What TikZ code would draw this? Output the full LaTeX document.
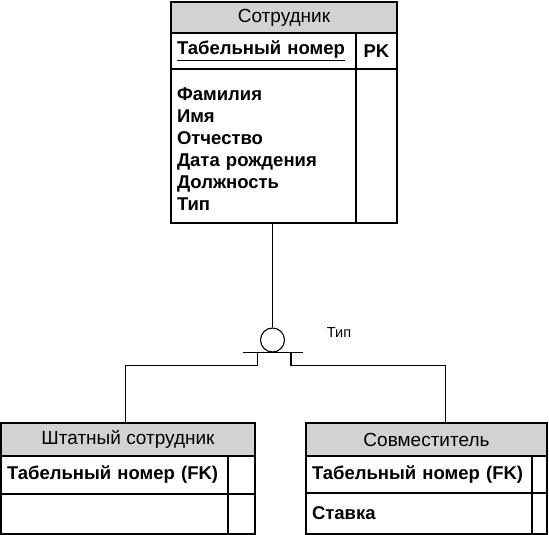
\documentclass[tikz,border=0pt]{standalone}
\usepackage{fontspec}
\setmainfont{Liberation Sans}
\usetikzlibrary{positioning,calc}

\begin{document}
\begin{tikzpicture}[
  x=1pt, y=-1pt,
  font=\fontsize{19}{22}\selectfont,
  hdr/.style={draw, fill=gray!35, minimum height=#1, inner sep=0pt},
  cell/.style={draw, text width=#1, align=left, inner xsep=6pt, inner ysep=0pt, font=\fontsize{18.5}{22}\selectfont\bfseries},
  side/.style={draw, inner sep=0pt},
  ln/.style={line width=1.1pt}]
\useasboundingbox (0,0) rectangle (549,535);
% Сотрудник
\node[hdr=31pt, minimum width=226pt, ln] (emp) at (284,17.5) {Сотрудник};
\node[cell=173pt, minimum height=36pt, ln] (empK) at (263.5,51) {\underline{Табельный номер}};
\node[side, minimum width=41pt, minimum height=36pt, ln, font=\fontsize{18.5}{22}\selectfont\bfseries] (empPK) at (376.5,51) {PK};
\node[cell=173pt, minimum height=154pt, ln] (empA) at (263.5,146) {\\[-2pt]Фамилия\\Имя\\Отчество\\Дата рождения\\Должность\\Тип};
\node[side, minimum width=41pt, minimum height=154pt, ln] (empAr) at (376.5,146) {};
% категория
\node[draw, circle, minimum size=24pt, inner sep=0pt, ln] (sub) at (272.5,340) {};
\node[font=\fontsize{14.5}{16}\selectfont] (typ) at (339,333) {Тип};
\coordinate (barL) at ($(sub.south)+(-30,0)$);
\coordinate (barR) at ($(sub.south)+(30,0)$);
\coordinate (legL) at ($(sub.south)+(-15,0)$);
\coordinate (legR) at ($(sub.south)+(18.5,0)$);
% Штатный сотрудник
\node[hdr=33pt, minimum width=254pt, ln] (stf) at (128,439.5) {Штатный сотрудник};
\node[cell=215pt, minimum height=38pt, ln] (stfK) at (114.5,475) {Табельный номер (FK)};
\node[side, minimum width=27pt, minimum height=38pt, ln] (stfKr) at (241.5,475) {};
\node[cell=215pt, minimum height=40pt, ln] (stfA) at (114.5,514) {};
\node[side, minimum width=27pt, minimum height=40pt, ln] (stfAr) at (241.5,514) {};
% Совместитель
\node[hdr=33pt, minimum width=241pt, ln] (prt) at (426.5,439.5) {Совместитель};
\node[cell=214pt, minimum height=37pt, ln] (prtK) at (419,474.5) {Табельный номер (FK)};
\node[side, minimum width=15pt, minimum height=37pt, ln] (prtKr) at (539.5,474.5) {};
\node[cell=214pt, minimum height=41pt, ln] (prtA) at (419,513.5) {Ставка};
\node[side, minimum width=15pt, minimum height=41pt, ln] (prtAr) at (539.5,513.5) {};
% связи
\draw[ln] (sub.north |- empA.south) -- (sub.north);
\draw[ln] (barL) -- (barR);
\draw[ln] (legL) -- ++(0,12.5) -| (stf.north -| 125.5,0);
\draw[ln] (legR) -- ++(0,12.5) -| (prt.north -| 445.5,0);
\end{tikzpicture}
\end{document}
